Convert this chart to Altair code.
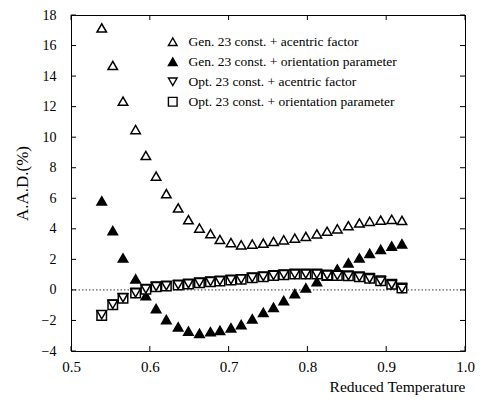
import altair as alt
import pandas as pd

# Reduced temperature values (shared by all four series)
T = [0.539, 0.553, 0.566, 0.582, 0.595, 0.608, 0.621, 0.636, 0.649, 0.663,
     0.677, 0.689, 0.703, 0.716, 0.730, 0.744, 0.757, 0.770, 0.784, 0.798,
     0.812, 0.825, 0.838, 0.852, 0.866, 0.879, 0.893, 0.907, 0.920]

gen_acentric = [17.15, 14.7, 12.36, 10.5, 8.8, 7.45, 6.3, 5.37, 4.6, 4.05,
                3.68, 3.3, 3.1, 2.95, 3.0, 3.06, 3.17, 3.28, 3.39, 3.5,
                3.67, 3.84, 4.0, 4.2, 4.38, 4.49, 4.57, 4.62, 4.55]
gen_orient = [5.83, 3.88, 2.09, 0.72, -0.38, -1.22, -1.94, -2.42, -2.7, -2.85,
              -2.74, -2.65, -2.48, -2.27, -1.9, -1.47, -1.14, -0.7, -0.25, 0.13,
              0.54, 0.9, 1.37, 1.77, 2.09, 2.39, 2.65, 2.87, 3.02]
opt_orient = [-1.68, -0.97, -0.54, -0.21, 0.05, 0.21, 0.26, 0.32, 0.39, 0.47,
              0.54, 0.58, 0.65, 0.69, 0.8, 0.86, 0.95, 1.0, 1.04, 1.04,
              1.04, 0.97, 0.95, 0.93, 0.86, 0.76, 0.6, 0.37, 0.12]
opt_acentric = [-1.62, -0.95, -0.52, -0.2, 0.06, 0.22, 0.27, 0.33, 0.4, 0.48,
                0.55, 0.6, 0.66, 0.7, 0.8, 0.87, 0.95, 1.0, 1.03, 1.04,
                1.03, 0.97, 0.95, 0.92, 0.85, 0.74, 0.58, 0.35, 0.1]

series_names = ["Gen. 23 const. + acentric factor",
                "Gen. 23 const. + orientation parameter",
                "Opt. 23 const. + acentric factor",
                "Opt. 23 const. + orientation parameter"]
series_shapes = ["triangle-up", "triangle-up", "triangle-down", "square"]
series_fills = ["white", "black", "white", "white"]
series_strokes = ["black", "black", "black", "black"]

x_ticks = [0.5, 0.6, 0.7, 0.8, 0.9, 1.0]
y_ticks = [-4, -2, 0, 2, 4, 6, 8, 10, 12, 14, 16, 18]

W, H = 394, 336
FONT = "Liberation Serif"

# draw order: squares under the down-triangles
rows = []
for name, vals in [(series_names[0], gen_acentric),
                   (series_names[1], gen_orient),
                   (series_names[3], opt_orient),
                   (series_names[2], opt_acentric)]:
    for t, v in zip(T, vals):
        rows.append({"T": t, "AAD": v, "series": name})
df = pd.DataFrame(rows)

xs = alt.Scale(domain=[0.5, 1.0], nice=False, zero=False)
ys = alt.Scale(domain=[-4, 18], nice=False, zero=False)

x_axis = alt.Axis(values=x_ticks, format=".1f", title="Reduced Temperature",
                  titleAnchor="end", labelPadding=8, titlePadding=5,
                  labelFontSize=15, titleFontSize=15.5)
y_axis = alt.Axis(values=y_ticks, format="d", title="A.A.D.(%)",
                  labelPadding=15, titlePadding=10,
                  labelFontSize=14, titleFontSize=17)

legend = alt.Legend(title=None, orient="none", legendX=95, legendY=20,
                    labelFont=FONT, labelFontSize=13.5, labelColor="black",
                    symbolStrokeWidth=1.4, symbolSize=75,
                    rowPadding=5, labelOffset=9, labelLimit=400)

points = alt.Chart(df).mark_point(filled=False, strokeWidth=1.5,
                                  size=90, opacity=1).encode(
    x=alt.X("T:Q", scale=xs, axis=x_axis),
    y=alt.Y("AAD:Q", scale=ys, axis=y_axis),
    shape=alt.Shape("series:N", scale=alt.Scale(domain=series_names, range=series_shapes),
                    legend=legend),
    fill=alt.Fill("series:N", scale=alt.Scale(domain=series_names, range=series_fills),
                  legend=legend),
    stroke=alt.Stroke("series:N", scale=alt.Scale(domain=series_names, range=series_strokes),
                      legend=legend),
)

zero_df = pd.DataFrame({"y": [0]})
zero_line = alt.Chart(zero_df).mark_rule(color="black", strokeWidth=0.8,
                                         strokeDash=[1.5, 2]).encode(
    y=alt.Y("y:Q", scale=ys, axis=y_axis))

xt = pd.DataFrame({"x": x_ticks})
yt = pd.DataFrame({"y": y_ticks})
tick_style = dict(color="black", strokeWidth=1)
bottom_ticks = alt.Chart(xt).mark_rule(**tick_style).encode(
    x=alt.X("x:Q", scale=xs, axis=x_axis), y=alt.value(H - 5), y2=alt.value(H))
top_ticks = alt.Chart(xt).mark_rule(**tick_style).encode(
    x=alt.X("x:Q", scale=xs, axis=x_axis), y=alt.value(0), y2=alt.value(5))
left_ticks = alt.Chart(yt).mark_rule(**tick_style).encode(
    y=alt.Y("y:Q", scale=ys, axis=y_axis), x=alt.value(0), x2=alt.value(5))
right_ticks = alt.Chart(yt).mark_rule(**tick_style).encode(
    y=alt.Y("y:Q", scale=ys, axis=y_axis), x=alt.value(W - 5), x2=alt.value(W))

chart = alt.layer(zero_line, bottom_ticks, top_ticks, left_ticks, right_ticks, points).properties(
    width=W, height=H,
    autosize=alt.AutoSizeParams(type="none"),
    padding={"left": 63, "top": 7, "right": 11, "bottom": 45},
    background="white",
).configure_view(
    stroke="black", strokeWidth=1
).configure_axis(
    grid=False, domain=False, ticks=False, tickSize=0,
    labelFont=FONT, titleFont=FONT, labelColor="black", titleColor="black",
    titleFontWeight="normal", labelOverlap=False, labelBound=False,
    labelFlush=False,
)

chart.save("out.html", embed_options={"renderer": "svg", "actions": False})
